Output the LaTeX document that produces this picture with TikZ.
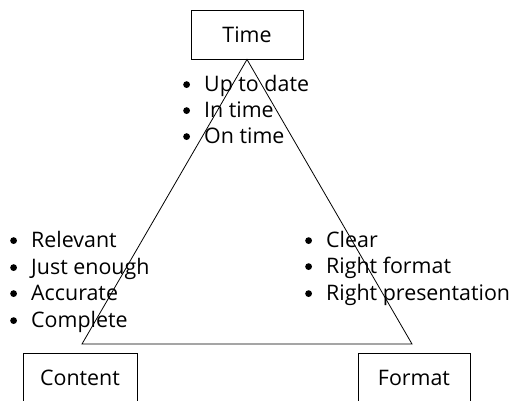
\documentclass[tikz,border=0pt]{standalone}
\usepackage{fontspec}
\setmainfont{Open Sans}
% round bullet followed by a fixed gap before the item text
\newcommand{\bul}{\makebox[21pt][l]{\raisebox{3pt}{\tikz\fill (0,0) circle (3.4pt);}}}
\begin{document}
\begin{tikzpicture}[x=1pt,y=-1pt,
  every node/.style={font=\fontsize{21.4}{26}\selectfont},
  box/.style={draw, line width=0.9pt, minimum width=112pt, minimum height=49pt, inner sep=0pt},
  item/.style={anchor=base west, inner sep=0pt},
  edge line/.style={line width=0.8pt}]
\clip (0,0) rectangle (511,400);
\useasboundingbox (0,0) rectangle (511,400);
% corner boxes
\node[box] (time) at (247,34.5) {Time};
\node[box, minimum width=114pt] (content) at (80,377.5) {Content};
\node[box] (format) at (414,377.5) {Format};
% triangle
\coordinate (left) at (82,344);
\coordinate (right) at (412,344);
\draw[edge line] (time.south) -- (left) -- (right) -- cycle;
% time qualities
\node[item] (t1) at (183,91) {\bul Up to date};
\node[item] (t2) at (183,117) {\bul In time};
\node[item] (t3) at (183,143) {\bul On time};
% content qualities
\node[item] (c1) at (10,247) {\bul Relevant};
\node[item] (c2) at (10,274) {\bul Just enough};
\node[item] (c3) at (10,300) {\bul Accurate};
\node[item] (c4) at (10,327) {\bul Complete};
% format qualities
\node[item] (f1) at (305,247) {\bul Clear};
\node[item] (f2) at (305,273) {\bul Right format};
\node[item] (f3) at (305,300) {\bul Right presentation};
\end{tikzpicture}
\end{document}
